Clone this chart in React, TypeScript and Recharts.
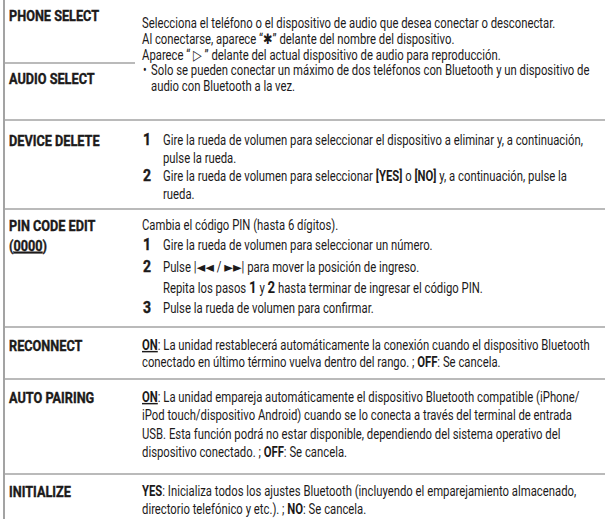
import { ComposedChart, Customized } from 'recharts';

// left column labels per row (markup: _x_ = underlined)
const rowLabels = [
  ['PHONE SELECT', 'AUDIO SELECT'],
  ['DEVICE DELETE'],
  ['PIN CODE EDIT', '(_0000_)'],
  ['RECONNECT'],
  ['AUTO PAIRING'],
  ['INITIALIZE'],
];

// right column text, [kind, text]; markup: *x* bold, _x_ bold+underline, #x# big bold
const rowText: [string, string][][] = [
  [
    ['p', 'Selecciona el teléfono o el dispositivo de audio que desea conectar o desconectar.'],
    ['p', 'Al conectarse, aparece “*✱*” delante del nombre del dispositivo.'],
    ['p', 'Aparece “ ▷ ” delante del actual dispositivo de audio para reproducción.'],
    ['b', 'Solo se pueden conectar un máximo de dos teléfonos con Bluetooth y un dispositivo de'],
    ['bc', 'audio con Bluetooth a la vez.'],
  ],
  [
    ['n1', 'Gire la rueda de volumen para seleccionar el dispositivo a eliminar y, a continuación,'],
    ['nc', 'pulse la rueda.'],
    ['n2', 'Gire la rueda de volumen para seleccionar *[YES]* o *[NO]* y, a continuación, pulse la'],
    ['nc', 'rueda.'],
  ],
  [
    ['p', 'Cambia el código PIN (hasta 6 dígitos).'],
    ['n1', 'Gire la rueda de volumen para seleccionar un número.'],
    ['n2', 'Pulse |◄◄ / ►►| para mover la posición de ingreso.'],
    ['nc', 'Repita los pasos #1# y #2# hasta terminar de ingresar el código PIN.'],
    ['n3', 'Pulse la rueda de volumen para confirmar.'],
  ],
  [
    ['p', '_ON_: La unidad restablecerá automáticamente la conexión cuando el dispositivo Bluetooth'],
    ['p', 'conectado en último término vuelva dentro del rango. ; *OFF*: Se cancela.'],
  ],
  [
    ['p', '_ON_: La unidad empareja automáticamente el dispositivo Bluetooth compatible (iPhone/'],
    ['p', 'iPod touch/dispositivo Android) cuando se lo conecta a través del terminal de entrada'],
    ['p', 'USB. Esta función podrá no estar disponible, dependiendo del sistema operativo del'],
    ['p', 'dispositivo conectado. ; *OFF*: Se cancela.'],
  ],
  [
    ['p', '*YES*: Inicializa todos los ajustes Bluetooth (incluyendo el emparejamiento almacenado,'],
    ['p', 'directorio telefónico y etc.). ; *NO*: Se cancela.'],
  ],
];

// layout: visual line centres and rules
const lineY = [
  [23, 39, 55, 70.5, 86],
  [140, 158, 176, 194],
  [225, 245, 267, 288, 308],
  [345, 362],
  [397, 415.5, 434, 452.5],
  [491, 509],
];
const labelY = [[15, 78], [140], [225, 245], [345], [397], [491]];
const ruleY = [120, 209, 327, 379, 474];
const partialRuleY = 63;

const W = 605;
const H = 519;
const FONT = 'Roboto, "Noto Sans", "DejaVu Sans", sans-serif';
const INK = '#1c1a1a';
const RULE = '#a3a3a3';
const SX = 0.78;
const LSX = 0.82;

type Seg = { t: string; b?: boolean; u?: boolean; big?: boolean };

function parse(s: string): Seg[] {
  return s
    .split(/(\*[^*]+\*|_[^_]+_|#[^#]+#)/)
    .filter((p) => p.length > 0)
    .map((p) => {
      if (p.startsWith('*')) return { t: p.slice(1, -1), b: true };
      if (p.startsWith('_')) return { t: p.slice(1, -1), b: true, u: true };
      if (p.startsWith('#')) return { t: p.slice(1, -1), b: true, big: true };
      return { t: p };
    });
}

function Rich({ x, y, text, size, sx = 1, bold, heavy }: { x: number; y: number; text: string; size: number; sx?: number; bold?: boolean; heavy?: boolean }) {
  return (
    <text
      transform={`translate(${x} ${y}) scale(${sx} 1)`}
      fontFamily={FONT}
      fontSize={size}
      fontWeight={bold ? 700 : 400}
      fill={INK}
      stroke={heavy ? INK : undefined}
      strokeWidth={heavy ? 0.4 : undefined}
      style={{ whiteSpace: 'pre' }}
    >
      {parse(text).map((p, i) => (
        <tspan
          key={i}
          fontWeight={p.b ? 700 : undefined}
          fontSize={p.big ? size + 2.5 : undefined}
          textDecoration={p.u ? 'underline' : undefined}
        >
          {p.t}
        </tspan>
      ))}
    </text>
  );
}

function TableLayer() {
  const out: any[] = [];
  rowText.forEach((lines, r) => {
    rowLabels[r].forEach((lab, k) => {
      out.push(<Rich key={`l${r}-${k}`} x={9} y={labelY[r][k] + 5.7} text={lab} size={15.5} sx={LSX} bold heavy />);
    });
    lines.forEach(([kind, txt], i) => {
      const y = lineY[r][i] + 4.8;
      let x = 142;
      if (kind === 'b' || kind === 'bc') {
        if (kind === 'b') out.push(<Rich key={`bu${r}-${i}`} x={143} y={y} text="•" size={14} sx={SX} />);
        x = 151;
      }
      if (kind[0] === 'n') {
        if (kind !== 'nc') out.push(<Rich key={`n${r}-${i}`} x={143} y={y + 0.6} text={kind.slice(1)} size={16.5} sx={0.85} bold heavy />);
        x = 163;
      }
      out.push(<Rich key={`t${r}-${i}`} x={x} y={y} text={txt} size={14.5} sx={SX} />);
    });
  });
  return (
    <g>
      <rect x={0} y={0} width={W} height={H} fill="#fff" />
      <line x1={4} y1={0} x2={4} y2={H} stroke={RULE} strokeWidth={2} />
      <line x1={4} y1={partialRuleY} x2={135} y2={partialRuleY} stroke={RULE} strokeWidth={1.6} />
      {ruleY.map((y) => (
        <line key={y} x1={4} y1={y} x2={W} y2={y} stroke={RULE} strokeWidth={1.6} />
      ))}
      {out}
    </g>
  );
}

const chartRows = rowLabels.map((l, i) => ({ name: l[0], lines: rowText[i].length }));

export default function App() {
  return (
    <div style={{ position: 'absolute', left: 0, top: 0, width: W, height: H, background: '#fff' }}>
      <ComposedChart width={W} height={H} data={chartRows} margin={{ top: 0, right: 0, bottom: 0, left: 0 }}>
        <Customized component={TableLayer} />
      </ComposedChart>
    </div>
  );
}
